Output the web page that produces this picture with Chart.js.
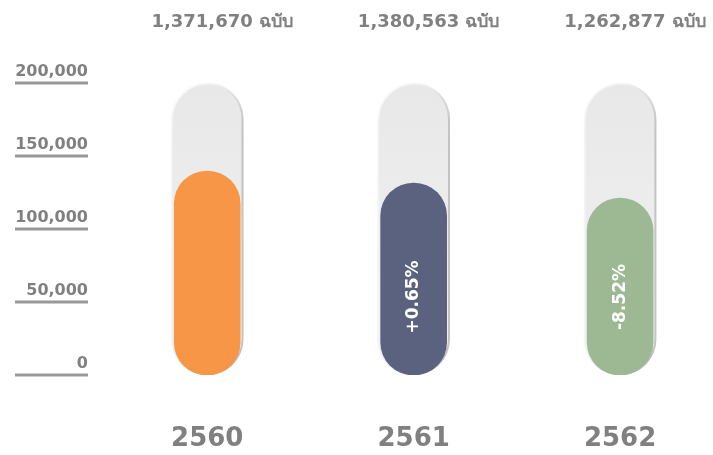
<!DOCTYPE html>
<html>
<head>
<meta charset="utf-8">
<script src="https://cdn.jsdelivr.net/npm/chart.js@4"></script>
<style>
  html, body { margin: 0; padding: 0; background: #fff; }
  #wrap { width: 713px; height: 455px; }
</style>
</head>
<body>
<div id="wrap"><canvas id="chart"></canvas></div>
<script>
// data
const years = ["2560", "2561", "2562"];
const totals = ["1,371,670 ฉบับ", "1,380,563 ฉบับ", "1,262,877 ฉบับ"];
const values = [139700, 131500, 121200];
const changes = ["", "+0.65%", "-8.52%"];
const trackMax = [200000, 200000, 200000];
const yTicks = [0, 50000, 100000, 150000, 200000];

const fillColors = ["#f79646", "#5a6280", "#9cb994"];
const grey = "#808080";
const font = "'DejaVu Sans', sans-serif";

// shadow under the grey tracks
const shadowPlugin = {
    id: "shadow",
    beforeDatasetDraw(chart, args) {
        if (args.index !== 1) return;
        const ctx = chart.ctx;
        ctx.save();
        ctx.shadowColor = "rgba(0,0,0,0.3)";
        ctx.shadowBlur = 16;
        ctx.shadowOffsetX = 7;
        ctx.shadowOffsetY = 6;
    },
    afterDatasetDraw(chart, args) {
        if (args.index !== 1) return;
        chart.ctx.restore();
    }
};

// y ticks with underlines, totals on top, years below, rotated changes
const labelsPlugin = {
    id: "labels",
    afterDraw(chart) {
        const ctx = chart.ctx;
        const y = chart.scales.y;
        ctx.save();

        yTicks.forEach(v => {
            const py = y.getPixelForValue(v);
            ctx.fillStyle = "#999";
            ctx.fillRect(15, py - 1.5, 73, 3);
            ctx.fillStyle = grey;
            ctx.font = "bold 16px " + font;
            ctx.textAlign = "right";
            ctx.textBaseline = "alphabetic";
            ctx.fillText(v.toLocaleString("en-US"), 88, py - 7);
        });

        const bars = chart.getDatasetMeta(0).data;
        bars.forEach((bar, i) => {
            ctx.fillStyle = grey;
            ctx.textAlign = "center";
            ctx.textBaseline = "middle";
            ctx.font = "bold 18px " + font;
            ctx.fillText(totals[i], bar.x + 15, 22);
            ctx.font = "bold 26px " + font;
            ctx.fillText(years[i], bar.x, 439);

            if (changes[i]) {
                ctx.save();
                ctx.translate(bar.x, 297);
                ctx.rotate(-Math.PI / 2);
                ctx.fillStyle = "#fff";
                ctx.font = "bold 17px " + font;
                ctx.fillText(changes[i], 0, 0);
                ctx.restore();
            }
        });
        ctx.restore();
    }
};

function trackGradient(context) {
    const area = context.chart.chartArea;
    if (!area) return "#ececec";
    const g = context.chart.ctx.createLinearGradient(0, area.top, 0, area.bottom);
    g.addColorStop(0, "#e8e8e8");
    g.addColorStop(1, "#f2f2f2");
    return g;
}

new Chart(document.getElementById("chart"), {
    type: "bar",
    data: {
        datasets: [{
            data: values.map((v, i) => ({ x: i, y: v })),
            backgroundColor: fillColors,
            borderWidth: 0,
            borderRadius: 33,
            borderSkipped: false,
            barThickness: 66,
            grouped: false,
            order: 0
        }, {
            data: trackMax.map((v, i) => ({ x: i, y: v })),
            backgroundColor: trackGradient,
            borderColor: "#ffffff",
            borderWidth: 2,
            borderRadius: 36,
            borderSkipped: false,
            barThickness: 72,
            grouped: false,
            order: 1
        }]
    },
    options: {
        responsive: true,
        maintainAspectRatio: false,
        animation: false,
        layout: { padding: { left: 104, right: 0, top: 83, bottom: 80 } },
        plugins: { legend: { display: false }, tooltip: { enabled: false } },
        scales: {
            x: { type: "linear", min: -0.5, max: 2.45, offset: false, display: false },
            y: { min: 0, max: 200000, display: false }
        }
    },
    plugins: [shadowPlugin, labelsPlugin]
});
</script>
</body>
</html>
